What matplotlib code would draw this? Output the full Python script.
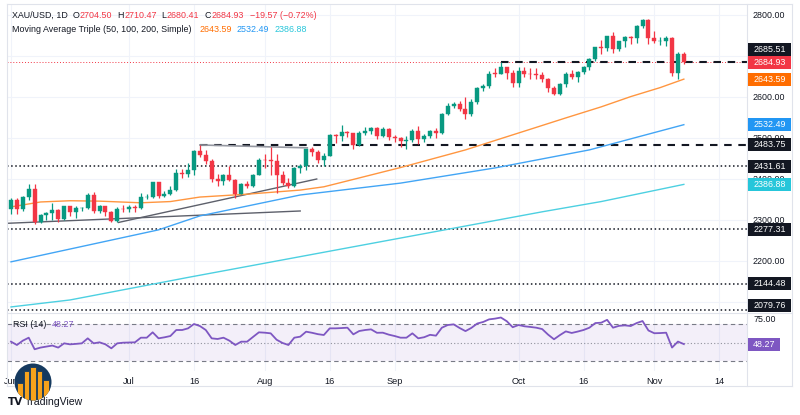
import numpy as np
import pandas as pd
import matplotlib
matplotlib.use('Agg')
import matplotlib.pyplot as plt
from matplotlib.patches import Rectangle, Circle

# ---------------- data ----------------
dates = pd.bdate_range('2024-06-03', '2024-11-08')

opens = [2327, 2350, 2327, 2355, 2376, 2294, 2311, 2316, 2324, 2303,
         2333, 2319, 2329, 2330, 2360, 2322, 2334, 2320, 2298, 2327,
         2326, 2332, 2330, 2356, 2357, 2392, 2359, 2364, 2372, 2414,
         2411, 2422, 2469, 2459, 2445, 2400, 2396, 2409, 2397, 2364,
         2387, 2384, 2410, 2447, 2446, 2443, 2410, 2390, 2382, 2427,
         2431, 2472, 2465, 2447, 2456, 2507, 2504, 2514, 2512, 2484,
         2512, 2518, 2524, 2504, 2521, 2503, 2500, 2493, 2495, 2516,
         2497, 2506, 2516, 2512, 2558, 2578, 2582, 2570, 2559, 2587,
         2622, 2628, 2659, 2657, 2672, 2658, 2634, 2663, 2657, 2656,
         2653, 2644, 2622, 2608, 2631, 2657, 2649, 2662, 2674, 2693,
         2721, 2720, 2748, 2718, 2736, 2747, 2743, 2774, 2788, 2743,
         2736, 2737, 2743, 2659, 2704.50]
highs = [2354, 2353, 2358, 2388, 2387, 2315, 2320, 2342, 2328, 2334,
         2335, 2333, 2332, 2366, 2368, 2337, 2335, 2322, 2331, 2337,
         2337, 2336, 2365, 2363, 2393, 2392, 2370, 2382, 2425, 2425,
         2440, 2470, 2483, 2470, 2448, 2412, 2412, 2431, 2401, 2390,
         2395, 2413, 2451, 2462, 2477, 2461, 2420, 2402, 2430, 2437,
         2474, 2477, 2471, 2463, 2509, 2510, 2531, 2517, 2513, 2518,
         2527, 2528, 2526, 2528, 2525, 2507, 2503, 2504, 2523, 2529,
         2510, 2519, 2524, 2560, 2586, 2589, 2590, 2600, 2594, 2625,
         2632, 2664, 2670, 2685, 2674, 2665, 2673, 2672, 2671, 2670,
         2660, 2646, 2627, 2633, 2661, 2666, 2664, 2676, 2695, 2722,
         2740, 2749, 2758, 2737, 2749, 2749, 2775, 2790, 2790, 2762,
         2746, 2750, 2747, 2709, 2710.47]
lows = [2314, 2315, 2321, 2350, 2291, 2292, 2299, 2300, 2295, 2299,
        2310, 2304, 2323, 2328, 2316, 2318, 2309, 2296, 2294, 2319,
        2319, 2319, 2327, 2351, 2353, 2353, 2355, 2360, 2370, 2403,
        2405, 2410, 2453, 2437, 2393, 2384, 2385, 2394, 2353, 2364,
        2379, 2380, 2409, 2427, 2410, 2366, 2385, 2377, 2380, 2415,
        2423, 2455, 2440, 2432, 2455, 2488, 2492, 2502, 2472, 2480,
        2508, 2510, 2497, 2502, 2496, 2490, 2478, 2474, 2490, 2485,
        2491, 2500, 2500, 2510, 2556, 2574, 2566, 2546, 2554, 2584,
        2614, 2623, 2650, 2655, 2645, 2625, 2625, 2650, 2643, 2643,
        2636, 2613, 2604, 2604, 2625, 2643, 2637, 2656, 2667, 2688,
        2704, 2713, 2708, 2712, 2722, 2729, 2732, 2768, 2730, 2731,
        2726, 2725, 2652, 2643, 2680.41]
closes = [2350, 2327, 2355, 2376, 2294, 2311, 2316, 2324, 2303, 2333,
          2319, 2329, 2330, 2360, 2322, 2334, 2320, 2298, 2327, 2326,
          2332, 2330, 2356, 2357, 2392, 2359, 2364, 2372, 2414, 2411,
          2422, 2469, 2459, 2445, 2400, 2396, 2409, 2397, 2364, 2387,
          2384, 2410, 2447, 2446, 2443, 2410, 2390, 2382, 2427, 2431,
          2472, 2465, 2447, 2456, 2507, 2504, 2514, 2512, 2484, 2512,
          2518, 2524, 2504, 2521, 2503, 2500, 2493, 2495, 2516, 2497,
          2506, 2516, 2512, 2558, 2578, 2582, 2570, 2559, 2587, 2622,
          2628, 2657, 2657, 2672, 2658, 2634, 2663, 2657, 2656, 2653,
          2644, 2622, 2608, 2631, 2657, 2649, 2662, 2674, 2693, 2721,
          2720, 2748, 2718, 2736, 2747, 2743, 2774, 2788, 2743, 2736,
          2737, 2743, 2659, 2704.50, 2684.93]

# moving averages read at knots (bar index, value)
ma50_idx = [0, 5, 10, 15, 22, 27, 32, 40, 49, 53, 58, 66, 77, 89, 94, 100, 105, 110, 114]
ma50_val = [2332, 2344, 2347, 2346, 2342, 2345, 2356, 2363, 2373, 2381, 2399, 2428, 2471,
            2526, 2549, 2576, 2601, 2623, 2643.59]
ma100_idx = [0, 25, 32, 49, 66, 82, 98, 114]
ma100_val = [2198, 2276, 2310, 2361, 2390, 2427, 2471, 2532.49]
ma200_idx = [0, 10, 30, 60, 90, 100, 114]
ma200_val = [2088, 2105, 2160, 2240, 2320, 2345, 2386.88]

rsi = [50.9, 47.3, 52.0, 55.2, 42.7, 44.5, 45.6, 46.7, 44.5, 49.1,
       48.0, 48.5, 49.1, 54.5, 49.1, 50.2, 48.0, 43.7, 49.1, 49.8,
       50.0, 50.2, 55.2, 55.2, 61.0, 54.5, 55.6, 57.0, 63.5, 63.5,
       65.3, 70.0, 67.8, 63.5, 54.5, 53.8, 55.2, 52.0, 47.3, 50.9,
       50.9, 56.0, 61.0, 60.6, 59.9, 53.0, 49.5, 47.3, 55.2, 56.3,
       61.7, 60.5, 59.0, 58.1, 65.3, 65.3, 65.6, 66.0, 58.8, 62.4,
       63.5, 64.2, 60.5, 60.6, 58.5, 57.0, 55.2, 55.2, 59.9, 54.5,
       55.7, 58.3, 57.4, 66.0, 68.9, 69.6, 65.7, 62.3, 65.8, 70.5,
       72.2, 75.0, 75.8, 77.0, 73.0, 66.5, 68.9, 67.5, 66.8, 66.0,
       64.5, 58.5, 53.5, 58.0, 62.0, 60.3, 61.8, 63.5, 66.0, 71.0,
       71.4, 74.5, 66.0, 68.0, 68.5, 67.8, 71.0, 73.2, 63.0, 60.0,
       60.2, 60.6, 44.5, 51.0, 48.27]

# horizontal levels
dotted_levels = [2431.61, 2277.31, 2144.48, 2079.76]
dashed_levels = [2483.75, 2685.51]
dashed_start = ['2024-07-17', '2024-09-26']
last_price = 2684.93
ma_last = [2643.59, 2532.49, 2386.88]
rsi_last = 48.27

# trend lines (bar index, price)
trend_lines = [((-0.6, 2292), (49, 2322)),
               ((18.2, 2294), (51.8, 2400)),
               ((32, 2483), (50.2, 2476))]

tick_dates = ['2024-06-03', '2024-07-01', '2024-07-16', '2024-08-01', '2024-08-16',
              '2024-09-02', '2024-10-01', '2024-10-16', '2024-11-01', '2024-11-14']
tick_labels = ['Jun', 'Jul', '16', 'Aug', '16', 'Sep', 'Oct', '16', 'Nov', '14']
price_ticks = [2800, 2600, 2500, 2400, 2300, 2200]

# ---------------- style ----------------
FONT = ['Liberation Sans', 'DejaVu Sans']
plt.rcParams['font.family'] = FONT
GREEN = '#089981'
RED = '#F23645'
DARK = '#131722'
ORANGE_L, ORANGE_B = '#FF9640', '#FF6D00'
BLUE_L, BLUE_B = '#42A5F5', '#2196F3'
CYAN_L, CYAN_B = '#4DD0E1', '#26C6DA'
PURPLE = '#7E57C2'
GRID = '#F0F3FA'
BORDER = '#E0E3EB'

W, H = 800, 415
fig = plt.figure(figsize=(W / 100, H / 100), dpi=100)
fig.patch.set_facecolor('white')


def rect(x0, y0, x1, y1):
    return [x0 / W, 1 - y1 / H, (x1 - x0) / W, (y1 - y0) / H]


MX0, MY0, MX1, MY1 = 7, 5, 747, 313
RY0, RY1 = 314, 371
ax = fig.add_axes(rect(MX0, MY0, MX1, MY1))
axr = fig.add_axes(rect(MX0, RY0, MX1, RY1))

XL = (-0.68, 124.7)
YL = (2073.2, 2824.4)
RL = (19.2, 80.8)

n = len(closes)
idx = np.arange(n)
o = np.array(opens, float)
h = np.array(highs, float)
l = np.array(lows, float)
c = np.array(closes, float)
up = c >= o
cols = np.where(up, GREEN, RED)

# grid
for p in range(2100, 2900, 100):
    ax.axhline(p, color=GRID, lw=0.8, zorder=0)


def pos_of(d):
    d = pd.Timestamp(d)
    if d in dates:
        return dates.get_loc(d)
    return (n - 1) + (d - dates[-1]).days


tick_pos = [pos_of(d) for d in tick_dates]
for tp in tick_pos:
    ax.axvline(tp, color=GRID, lw=0.8, zorder=0)
    axr.axvline(tp, color=GRID, lw=0.8, zorder=0)

# levels
for lv in dotted_levels:
    ax.axhline(lv, color=DARK, lw=1.1, ls=(0, (1, 1.7)), zorder=2)
ax.axhline(last_price, color=RED, lw=0.7, ls=(0, (1, 2)), zorder=2)
for lv, sd in zip(dashed_levels, dashed_start):
    ax.plot([pos_of(sd), XL[1]], [lv, lv], color=DARK, lw=1.5, ls=(0, (3.6, 3.2)), zorder=2)

# trend lines
for (x0, y0), (x1, y1) in trend_lines[:2]:
    ax.plot([x0, x1], [y0, y1], color='#5D606B', lw=1.0, zorder=2)
(x0, y0), (x1, y1) = trend_lines[2]
ax.plot([x0, x1], [y0, y1], color='#9598A1', lw=1.2, zorder=2)

# moving averages
ax.plot(ma200_idx, ma200_val, color=CYAN_L, lw=1.0, zorder=3)
ax.plot(ma100_idx, ma100_val, color=BLUE_L, lw=1.0, zorder=3)
ax.plot(ma50_idx, ma50_val, color=ORANGE_L, lw=1.0, zorder=3)

# candles
body_lo = np.minimum(o, c)
body_h = np.maximum(np.abs(c - o), 1.2)
ax.vlines(idx, l, h, colors=cols, lw=0.9, zorder=4)
ax.bar(idx, body_h, bottom=body_lo, width=0.68, color=cols, edgecolor=cols, lw=0.3, zorder=5)

ax.set_xlim(*XL)
ax.set_ylim(*YL)
ax.set_xticks([])
ax.set_yticks([])
ax.tick_params(labelbottom=False, labelleft=False)
for s in ax.spines.values():
    s.set_visible(False)

# RSI panel
axr.axhspan(30, 70, color=PURPLE, alpha=0.09, lw=0, zorder=0)
axr.axhline(70, color='#787B86', lw=0.8, ls=(0, (4, 3)), zorder=1)
axr.axhline(30, color='#787B86', lw=0.8, ls=(0, (4, 3)), zorder=1)
axr.axhline(50, color='#787B86', lw=0.8, ls=(0, (1, 2)), alpha=0.8, zorder=1)
axr.plot(idx, rsi, color=PURPLE, lw=1.3, zorder=3)
axr.set_ylim(*RL)
axr.set_yticks([])
axr.set_xticks(tick_pos)
axr.set_xticklabels(tick_labels, fontsize=6.6, color=DARK)
axr.tick_params(axis='x', length=0, pad=4)
for s in axr.spines.values():
    s.set_visible(False)
axr.set_xlim(*XL)

# frame lines
line_kw = dict(color=BORDER, lw=0.8, transform=fig.transFigure)


def hline(y, x0, x1):
    fig.add_artist(plt.Line2D([x0 / W, x1 / W], [1 - y / H, 1 - y / H], **line_kw))


def vline(x, y0, y1):
    fig.add_artist(plt.Line2D([x / W, x / W], [1 - y0 / H, 1 - y1 / H], **line_kw))


hline(4, MX0, 792)
hline(313, MX0, 792)
hline(386, MX0, 792)
vline(MX0, 4, 386)
vline(747, 4, 386)
vline(792, 4, 386)


def price_px(p):
    return MY0 + (YL[1] - p) / (YL[1] - YL[0]) * (MY1 - MY0)


def rsi_px(v):
    return RY0 + (RL[1] - v) / (RL[1] - RL[0]) * (RY1 - RY0)


def ftext(x, y, s, **kw):
    kw.setdefault('fontsize', 6.3)
    kw.setdefault('va', 'center')
    return fig.text(x / W, 1 - y / H, s, **kw)


renderer = fig.canvas.get_renderer()


def seq(x, y, parts, size=6.4):
    """Draw text pieces one after another, each starting where the last ended."""
    for s, col, gap in parts:
        t = ftext(x, y, s, color=col, fontsize=size)
        x += t.get_window_extent(renderer=renderer).width + gap
    return x


# price axis plain labels
for p in price_ticks:
    ftext(769, price_px(p), f'{p:.2f}', ha='center', color=DARK, fontsize=6.4)
ftext(765, rsi_px(75), '75.00', ha='center', color=DARK, fontsize=6.4)

# label boxes with overlap resolution
labels = [(2685.51, DARK), (last_price, RED), (ma_last[0], ORANGE_B), (ma_last[1], BLUE_B),
          (dashed_levels[0], DARK), (dotted_levels[0], DARK), (ma_last[2], CYAN_B),
          (dotted_levels[1], DARK), (dotted_levels[2], DARK), (dotted_levels[3], DARK)]
BH = 13.0
ys = [price_px(p) for p, _ in labels]
anchor = 1
for k in range(anchor - 1, -1, -1):
    ys[k] = min(ys[k], ys[k + 1] - BH)
for k in range(anchor + 1, len(ys)):
    ys[k] = max(ys[k], ys[k - 1] + BH)
ys[-1] = min(ys[-1], MY1 - BH / 2 - 1)
for k in range(len(ys) - 2, anchor, -1):
    ys[k] = min(ys[k], ys[k + 1] - BH)

for (p, colr), yc in zip(labels, ys):
    fig.add_artist(Rectangle((748 / W, 1 - (yc + BH / 2) / H), 43 / W, BH / H,
                             transform=fig.transFigure, facecolor=colr, edgecolor='none', zorder=10))
    ftext(769.5, yc, f'{p:.2f}', ha='center', color='white', fontsize=6.4, zorder=11)

yc = rsi_px(rsi_last)
fig.add_artist(Rectangle((748 / W, 1 - (yc + BH / 2) / H), 32 / W, BH / H,
                         transform=fig.transFigure, facecolor=PURPLE, edgecolor='none', zorder=10))
ftext(764, yc, f'{rsi_last:.2f}', ha='center', color='white', fontsize=6.4, zorder=11)

# header texts
chg = closes[-1] - closes[-2]
pct = abs(chg) / closes[-2] * 100
seq(12, 15, [('XAU/USD, 1D', DARK, 5),
             ('O', DARK, 0.3), (f'{opens[-1]:.2f}', RED, 5),
             ('H', DARK, 0.3), (f'{highs[-1]:.2f}', RED, 5),
             ('L', DARK, 0.3), (f'{lows[-1]:.2f}', RED, 5),
             ('C', DARK, 0.3), (f'{closes[-1]:.2f}', RED, 6),
             (f'\u2212{abs(chg):.2f} (\u2212{pct:.2f}%)', RED, 0)])
seq(12, 30, [('Moving Average Triple (50, 100, 200, Simple)', DARK, 8),
             (f'{ma_last[0]:.2f}', ORANGE_B, 5),
             (f'{ma_last[1]:.2f}', BLUE_B, 5),
             (f'{ma_last[2]:.2f}', CYAN_B, 0)])
seq(13, 324, [('RSI (14)', DARK, 5), (f'{rsi_last:.2f}', PURPLE, 0)])

# logo (circle with bars)
lax = fig.add_axes(rect(14, 363, 52, 401), zorder=20)
lax.set_xlim(14, 52)
lax.set_ylim(401, 363)
lax.axis('off')
cc = Circle((33, 382), 18.5, facecolor='#163A5F', edgecolor='none')
lax.add_patch(cc)
bar_x = [17, 23.5, 30, 36.5, 43]
bar_top = [383, 371, 367, 371, 380]
for bx, bt in zip(bar_x, bar_top):
    rr = Rectangle((bx, bt), 5.5, 40, facecolor='#F7A21B', edgecolor='#163A5F', lw=0.6)
    lax.add_patch(rr)
    rr.set_clip_path(cc)

ftext(8, 402, 'TV', color=DARK, fontsize=7.5, fontweight='bold', family=['DejaVu Sans'])
ftext(25, 402, 'TradingView', color=DARK, fontsize=7.6)

fig.savefig('out.png', dpi=100, facecolor='white')
